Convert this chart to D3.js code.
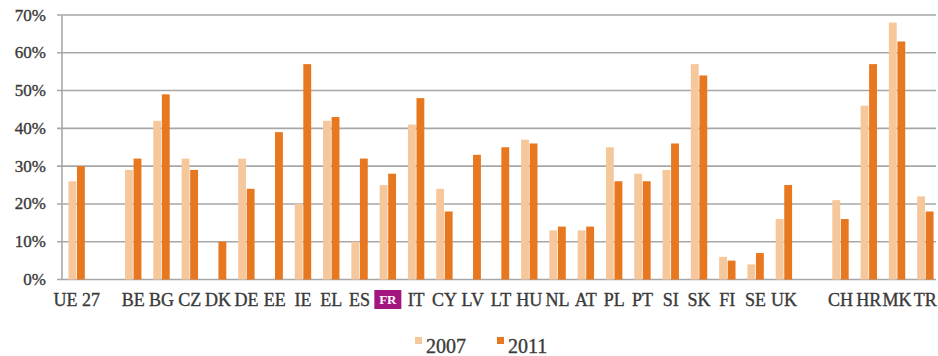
<!DOCTYPE html>
<html>
<head>
<meta charset="utf-8">
<script src="https://cdn.jsdelivr.net/npm/d3@7"></script>
<style>
  html, body { margin: 0; padding: 0; background: #fff; }
  svg { display: block; }
</style>
</head>
<body>
<svg id="chart" width="938" height="356" font-family="'Liberation Serif', 'DejaVu Serif', serif"></svg>
<script>
// Categories (blank entries are spacer slots between groups)
const categories = ["UE 27", "gap1", "BE", "BG", "CZ", "DK", "DE", "EE", "IE", "EL", "ES", "FR",
  "IT", "CY", "LV", "LT", "HU", "NL", "AT", "PL", "PT", "SI", "SK", "FI", "SE", "UK",
  "gap2", "CH", "HR", "MK", "TR"];

// Share in percent; null where no value exists
const values2007 = [26, null, 29, 42, 32, null, 32, null, 20, 42, 10, 25,
  41, 24, null, null, 37, 13, 13, 35, 28, 29, 57, 6, 4, 16,
  null, 21, 46, 68, 22];
const values2011 = [30, null, 32, 49, 29, 10, 24, 39, 57, 43, 32, 28,
  48, 18, 33, 35, 36, 14, 14, 26, 26, 36, 54, 5, 7, 25,
  null, 16, 57, 63, 18];

const series = ["2007", "2011"];
const yTicks = [0, 10, 20, 30, 40, 50, 60, 70];
const highlighted = "FR";

const colors = { "2007": "#f7c79c", "2011": "#e8781f" };
const textColor = "#3a3a3a";

const svg = d3.select("#chart");
const plotLeft = 62, plotRight = 939.5, plotTop = 15, plotBottom = 279.5, gridRight = 936;

const x = d3.scaleBand().domain(categories).range([plotLeft + 0.5, plotRight])
  .paddingInner(0.42).paddingOuter(0.21);
const xs = d3.scaleBand().domain(series).range([0, x.bandwidth()]).paddingInner(0.08);
const y = d3.scaleLinear().domain([0, 70]).range([plotBottom, plotTop]);

// Horizontal gridlines
svg.append("g").selectAll("line").data(yTicks).join("line")
  .attr("x1", plotLeft - 5).attr("x2", gridRight)
  .attr("y1", d => y(d)).attr("y2", d => y(d))
  .attr("stroke", "#a7a7a7").attr("stroke-width", 1.6);

// Vertical axis line
svg.append("line").attr("x1", plotLeft).attr("x2", plotLeft)
  .attr("y1", plotTop).attr("y2", plotBottom)
  .attr("stroke", "#a7a7a7").attr("stroke-width", 1.6);

// Y tick labels
svg.append("g").selectAll("text").data(yTicks).join("text")
  .attr("x", 46).attr("y", d => y(d) + 5.5)
  .attr("text-anchor", "end").attr("font-size", 17).attr("fill", textColor)
  .attr("stroke", textColor).attr("stroke-width", 0.35)
  .text(d => d + "%");

// Bars
const rows = categories.map((c, i) => ({ c, v: { "2007": values2007[i], "2011": values2011[i] } }));
const groups = svg.append("g").selectAll("g").data(rows).join("g")
  .attr("transform", d => `translate(${x(d.c)},0)`);
groups.selectAll("rect")
  .data(d => series.filter(s => d.v[s] != null).map(s => ({ s, v: d.v[s] })))
  .join("rect")
  .attr("x", d => xs(d.s)).attr("width", xs.bandwidth())
  .attr("y", d => y(d.v)).attr("height", d => y(0) - y(d.v))
  .attr("fill", d => colors[d.s]);

// Category labels
const labels = svg.append("g").selectAll("g")
  .data(categories.filter(c => !c.startsWith("gap"))).join("g")
  .attr("transform", c => `translate(${x(c) + x.bandwidth() / 2},0)`);
labels.filter(c => c === highlighted).append("rect")
  .attr("x", -13.5).attr("y", 290).attr("width", 27).attr("height", 19)
  .attr("fill", "#a3157f");
labels.append("text")
  .attr("y", c => c === highlighted ? 304 : 306)
  .attr("text-anchor", "middle")
  .attr("font-size", c => c === highlighted ? 13 : 18)
  .attr("font-weight", c => c === highlighted ? "bold" : "normal")
  .attr("fill", c => c === highlighted ? "#ffffff" : textColor)
  .attr("stroke", c => c === highlighted ? "none" : textColor)
  .attr("stroke-width", 0.35)
  .text(c => c);

// Legend
const legendItems = [{ s: "2007", x: 415 }, { s: "2011", x: 497 }];
const legend = svg.append("g").selectAll("g").data(legendItems).join("g")
  .attr("transform", d => `translate(${d.x},0)`);
legend.append("rect").attr("x", 0).attr("y", 337).attr("width", 7).attr("height", 7)
  .attr("fill", d => colors[d.s]);
legend.append("text").attr("x", 11).attr("y", 353)
  .attr("font-size", 20).attr("fill", textColor)
  .attr("stroke", textColor).attr("stroke-width", 0.35)
  .text(d => d.s);
</script>
</body>
</html>
